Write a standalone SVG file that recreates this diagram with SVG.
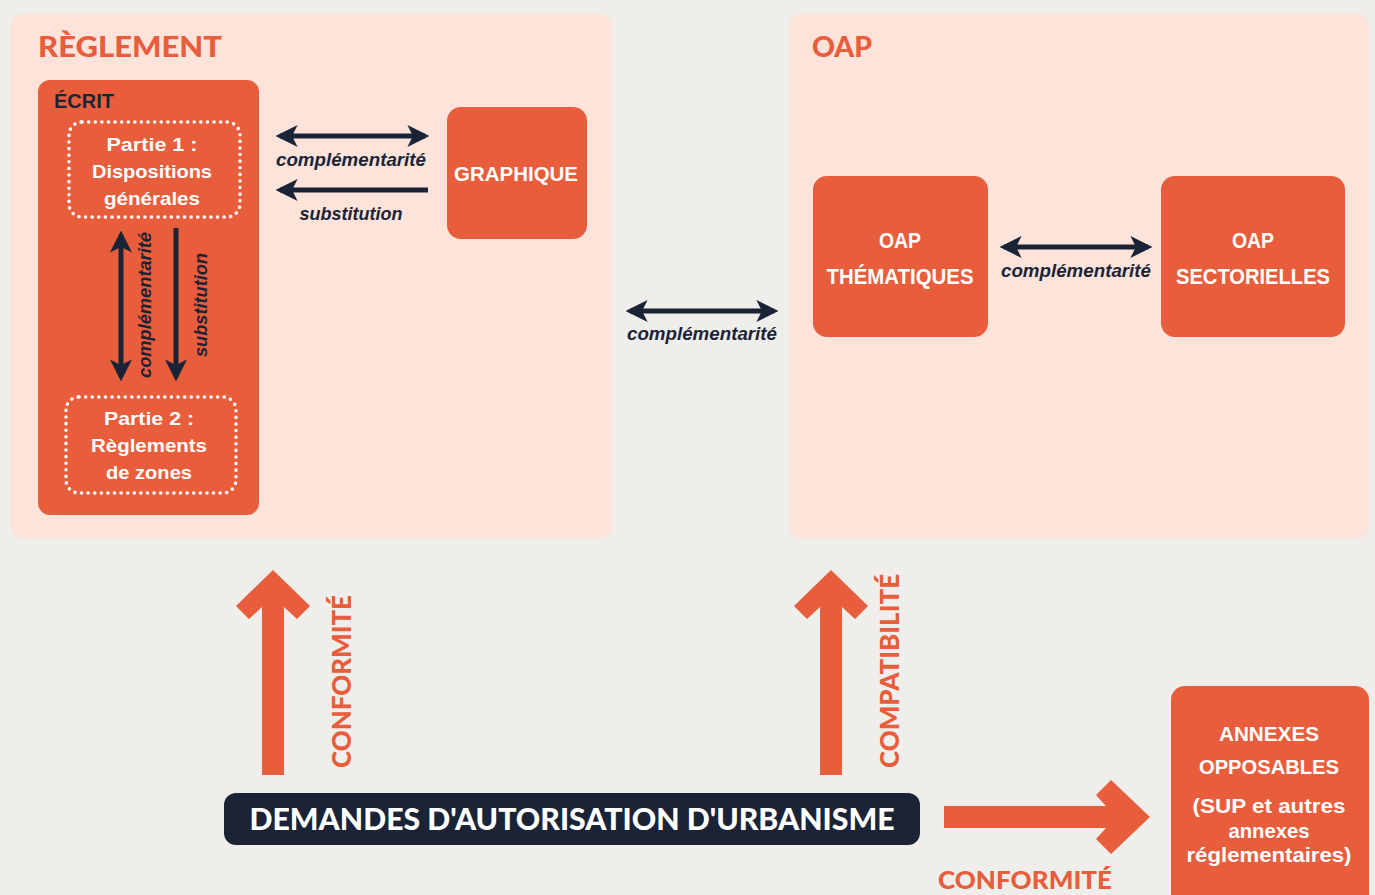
<svg xmlns="http://www.w3.org/2000/svg" width="1375" height="895" viewBox="0 0 1375 895">
<defs>
<style>
.panel{fill:#fde3d9}
.box{fill:#e85d3b}
.dot{fill:none;stroke:#ffffff;stroke-width:3.5;stroke-dasharray:0.1 6.5;stroke-linecap:round}
.wt{font-family:"Liberation Sans",Arial,sans-serif;font-weight:bold;fill:#ffffff;text-anchor:middle}
.lbl{font-family:"Liberation Sans",Arial,sans-serif;font-weight:bold;font-style:italic;fill:#1b2437;font-size:18px;text-anchor:middle}
.disp{font-family:Lato,"Liberation Sans",sans-serif;font-weight:900;text-transform:uppercase}
.conn{stroke:#1b2437;stroke-width:5;fill:none}
.big{fill:#e85d3b}
</style>
<marker id="ah" viewBox="0 0 10 10" refX="8" refY="5" markerWidth="4.4" markerHeight="4.4" orient="auto-start-reverse" markerUnits="strokeWidth">
<path d="M0,0 L10,5 L0,10 L2.5,5 Z" fill="#1b2437"/>
</marker>
</defs>
<rect width="1375" height="895" fill="#efeeea"/>

<g id="panel-reglement">
<rect class="panel" x="10" y="14" width="602" height="524" rx="12"/>
<text class="disp" x="38" y="57" font-size="29" fill="#e85d3b" textLength="184" lengthAdjust="spacingAndGlyphs">règlement</text>
</g>
<g id="panel-oap">
<rect class="panel" x="789" y="14" width="580" height="524" rx="12"/>
<text class="disp" x="812" y="57" font-size="29" fill="#e85d3b" textLength="60" lengthAdjust="spacingAndGlyphs">oap</text>
</g>

<g id="ecrit">
<rect class="box" x="38" y="80" width="221" height="435" rx="12"/>
<text x="54" y="108" font-family="Liberation Sans,Arial,sans-serif" font-weight="bold" font-size="21" fill="#1b2437" textLength="60" lengthAdjust="spacingAndGlyphs">ÉCRIT</text>
</g>
<g id="partie1">
<rect class="dot" x="69" y="122" width="171" height="95" rx="13"/>
<text class="wt" font-size="19"><tspan x="152" y="151" textLength="91" lengthAdjust="spacingAndGlyphs">Partie 1 :</tspan><tspan x="152" y="178" textLength="120" lengthAdjust="spacingAndGlyphs">Dispositions</tspan><tspan x="152" y="205" textLength="96" lengthAdjust="spacingAndGlyphs">générales</tspan></text>
</g>
<g id="partie2">
<rect class="dot" x="66" y="397" width="170" height="96" rx="13"/>
<text class="wt" font-size="19"><tspan x="149" y="425" textLength="90" lengthAdjust="spacingAndGlyphs">Partie 2 :</tspan><tspan x="149" y="452" textLength="116" lengthAdjust="spacingAndGlyphs">Règlements</tspan><tspan x="149" y="479" textLength="86" lengthAdjust="spacingAndGlyphs">de zones</tspan></text>
</g>
<g id="graphique">
<rect class="box" x="447" y="107" width="140" height="132" rx="14"/>
<text class="wt" x="516" y="181" font-size="21" textLength="124" lengthAdjust="spacingAndGlyphs">GRAPHIQUE</text>
</g>
<g id="oap-thematiques">
<rect class="box" x="813" y="176" width="175" height="161" rx="14"/>
<text class="wt" font-size="22"><tspan x="900" y="248" textLength="42" lengthAdjust="spacingAndGlyphs">OAP</tspan><tspan x="900" y="284" textLength="147" lengthAdjust="spacingAndGlyphs">THÉMATIQUES</tspan></text>
</g>
<g id="oap-sectorielles">
<rect class="box" x="1161" y="176" width="184" height="161" rx="14"/>
<text class="wt" font-size="22"><tspan x="1253" y="248" textLength="42" lengthAdjust="spacingAndGlyphs">OAP</tspan><tspan x="1253" y="284" textLength="154" lengthAdjust="spacingAndGlyphs">SECTORIELLES</tspan></text>
</g>
<g id="annexes">
<rect class="box" x="1171" y="686" width="198" height="230" rx="14"/>
<text class="wt" font-size="21"><tspan x="1269" y="741" textLength="100" lengthAdjust="spacingAndGlyphs">ANNEXES</tspan><tspan x="1269" y="774" textLength="140" lengthAdjust="spacingAndGlyphs">OPPOSABLES</tspan><tspan x="1269" y="813" textLength="153" lengthAdjust="spacingAndGlyphs">(SUP et autres</tspan><tspan x="1269" y="838" textLength="81" lengthAdjust="spacingAndGlyphs">annexes</tspan><tspan x="1269" y="862" textLength="165" lengthAdjust="spacingAndGlyphs">réglementaires)</tspan></text>
</g>
<g id="demandes">
<rect x="224" y="793" width="696" height="52" rx="12" fill="#1b2437"/>
<text class="disp" x="572" y="830" font-size="30" fill="#ffffff" text-anchor="middle" textLength="645" lengthAdjust="spacingAndGlyphs">demandes d'autorisation d'urbanisme</text>
</g>

<g id="connectors">
<line class="conn" x1="280" y1="136" x2="425" y2="136" marker-start="url(#ah)" marker-end="url(#ah)"/>
<text class="lbl" x="351" y="166" textLength="150" lengthAdjust="spacingAndGlyphs">complémentarité</text>
<line class="conn" x1="428" y1="190" x2="280" y2="190" marker-end="url(#ah)"/>
<text class="lbl" x="351" y="220" textLength="103" lengthAdjust="spacingAndGlyphs">substitution</text>
<line class="conn" x1="121" y1="235" x2="121" y2="377" marker-start="url(#ah)" marker-end="url(#ah)"/>
<text class="lbl" transform="translate(151,305) rotate(-90)" textLength="146" lengthAdjust="spacingAndGlyphs">complémentarité</text>
<line class="conn" x1="176" y1="228" x2="176" y2="377" marker-end="url(#ah)"/>
<text class="lbl" transform="translate(207,305) rotate(-90)" textLength="104" lengthAdjust="spacingAndGlyphs">substitution</text>
<line class="conn" x1="630" y1="311" x2="774" y2="311" marker-start="url(#ah)" marker-end="url(#ah)"/>
<text class="lbl" x="702" y="340" textLength="150" lengthAdjust="spacingAndGlyphs">complémentarité</text>
<line class="conn" x1="1004" y1="247" x2="1148" y2="247" marker-start="url(#ah)" marker-end="url(#ah)"/>
<text class="lbl" x="1076" y="277" textLength="150" lengthAdjust="spacingAndGlyphs">complémentarité</text>

<polygon class="big" points="273,570 310,606 297,619 284,607 284,775 262,775 262,607 249,619 236,606"/>
<text class="disp" transform="translate(351,768) rotate(-90)" font-size="27" fill="#e85d3b" textLength="173" lengthAdjust="spacingAndGlyphs">conformité</text>
<polygon class="big" points="831,570 868,606 855,619 842,607 842,775 820,775 820,607 807,619 794,606"/>
<text class="disp" transform="translate(899,768) rotate(-90)" font-size="27" fill="#e85d3b" textLength="194" lengthAdjust="spacingAndGlyphs">compatibilité</text>
<polygon class="big" points="944,806 1106,806 1096,795 1111,780 1150,817 1111,854 1096,839 1106,828 944,828"/>
<text class="disp" x="938" y="889" font-size="25" fill="#e85d3b" textLength="174" lengthAdjust="spacingAndGlyphs">conformité</text>
</g>
</svg>
